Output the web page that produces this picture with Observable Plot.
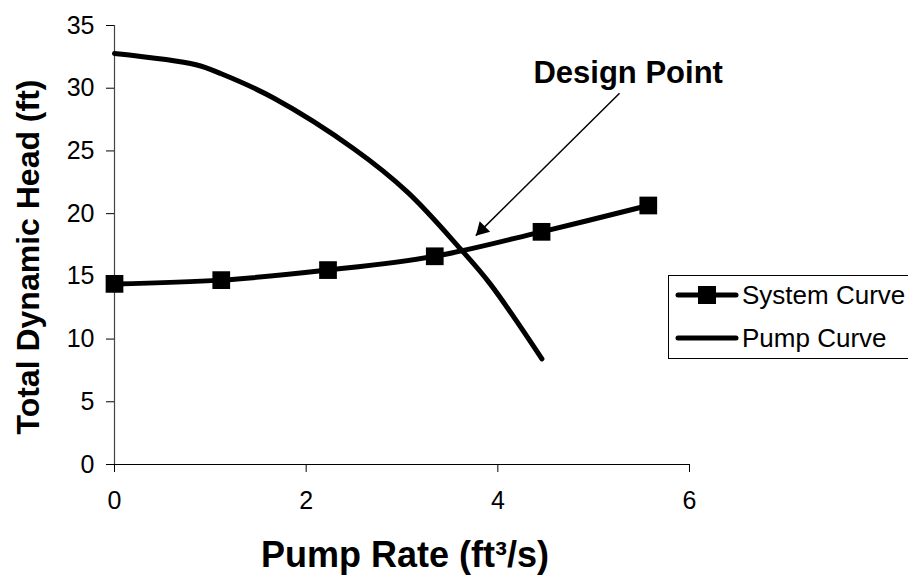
<!DOCTYPE html>
<html>
<head>
<meta charset="utf-8">
<script src="https://cdn.jsdelivr.net/npm/d3@7"></script>
<script src="https://cdn.jsdelivr.net/npm/@observablehq/plot@0.6"></script>
<style>
  html, body { margin: 0; padding: 0; background: #fff; }
  #chart { position: relative; width: 908px; height: 582px; }
</style>
</head>
<body>
<div id="chart"></div>
<script>
// ---- Data ----
const systemX = [0, 1.114, 2.228, 3.342, 4.456, 5.570];
const systemY = [14.4, 14.7, 15.5, 16.6, 18.55, 20.65];

const pumpX = [0, 0.85, 1.12, 1.66, 2.50, 3.06, 3.61, 3.92, 4.46];
const pumpY = [32.77, 31.87, 31.13, 29.22, 25.16, 21.7, 17.19, 14.4, 8.42];

const seriesNames = ["System Curve", "Pump Curve"];
const xTicks = [0, 2, 4, 6];
const yTicks = [0, 5, 10, 15, 20, 25, 30, 35];
const xTitle = "Pump Rate (ft³/s)";
const yTitle = "Total Dynamic Head (ft)";

const annotationText = ["Design Point"];
const annotationX = [5.36];
const annotationY = [31.2];
const arrowFrom = [[5.27, 29.6]];
const arrowTo = [[3.77, 18.25]];

// ---- Build tables ----
const system = systemX.map((x, i) => ({x, y: systemY[i]}));
const pump = pumpX.map((x, i) => ({x, y: pumpY[i]}));
const annotation = annotationText.map((t, i) => ({text: t, x: annotationX[i], y: annotationY[i]}));
const arrows = arrowFrom.map((f, i) => ({x1: f[0], y1: f[1], x2: arrowTo[i][0], y2: arrowTo[i][1]}));

const font = "'Liberation Sans', Arial, Helvetica, sans-serif";

const plot = Plot.plot({
  width: 908,
  height: 582,
  marginLeft: 114,
  marginRight: 219,
  marginTop: 25,
  marginBottom: 118,
  style: {fontFamily: font, fontSize: "25px", color: "#000", background: "#fff"},
  x: {domain: [0, 6]},
  y: {domain: [0, 35]},
  marks: [
    Plot.axisY({ticks: yTicks, tickSize: 8, tickPadding: 12, label: null, fontSize: 25, tickFormat: d => String(d)}),
    Plot.axisX({ticks: xTicks, tickSize: 8, tickPadding: 19, label: null, fontSize: 25, tickFormat: d => String(d)}),
    Plot.ruleX([0], {stroke: "#444", strokeWidth: 1.2}),
    Plot.ruleY([0], {stroke: "#000", strokeWidth: 1.2}),
    Plot.line(system, {x: "x", y: "y", curve: "catmull-rom", stroke: "#000", strokeWidth: 5, strokeLinecap: "round", strokeLinejoin: "round"}),
    Plot.dot(system, {x: "x", y: "y", symbol: "square", r: 10, fill: "#000"}),
    Plot.line(pump, {x: "x", y: "y", curve: "catmull-rom", stroke: "#000", strokeWidth: 5, strokeLinecap: "round", strokeLinejoin: "round"}),
    Plot.link(arrows, {x1: "x1", y1: "y1", x2: "x2", y2: "y2", stroke: "#000", strokeWidth: 1.5}),
    Plot.dot(arrows, {x: "x2", y: "y2", symbol: "triangle", r: 5.5, rotate: 225, dx: 6.1, dy: -6.0, fill: "#000"}),
    Plot.text(annotation, {x: "x", y: "y", text: "text", fontWeight: "bold", fontSize: 31, textAnchor: "middle", fill: "#000"})
  ]
});

document.getElementById("chart").appendChild(plot);

// ---- Axis titles and legend (layout only) ----
const svg = d3.select(plot);

svg.append("text")
  .attr("x", 405).attr("y", 567)
  .attr("text-anchor", "middle")
  .attr("font-family", font).attr("font-weight", "bold").attr("font-size", 36)
  .attr("fill", "#000")
  .text(xTitle);

svg.append("text")
  .attr("transform", "translate(39,257) rotate(-90)")
  .attr("text-anchor", "middle")
  .attr("font-family", font).attr("font-weight", "bold").attr("font-size", 32)
  .attr("fill", "#000")
  .text(yTitle);

const lg = svg.append("g");
lg.append("rect")
  .attr("x", 668.5).attr("y", 275.5).attr("width", 260).attr("height", 83)
  .attr("fill", "#fff").attr("stroke", "#000").attr("stroke-width", 1);
const rowY = [295, 338];
seriesNames.forEach((name, i) => {
  const y = rowY[i];
  lg.append("line")
    .attr("x1", 678).attr("x2", 736).attr("y1", y).attr("y2", y)
    .attr("stroke", "#000").attr("stroke-width", 5).attr("stroke-linecap", "round");
  if (i === 0) {
    lg.append("rect").attr("x", 707 - 9).attr("y", y - 9).attr("width", 18).attr("height", 18).attr("fill", "#000");
  }
  lg.append("text")
    .attr("x", 742).attr("y", y).attr("dy", "0.35em")
    .attr("text-anchor", "start")
    .attr("font-family", font).attr("font-size", 26).attr("fill", "#000")
    .text(name);
});
</script>
</body>
</html>
